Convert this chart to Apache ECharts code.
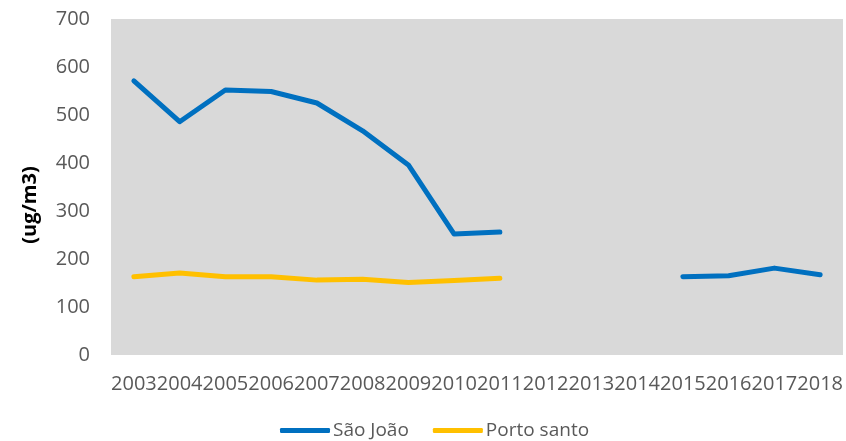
<!DOCTYPE html>
<html>
<head>
<meta charset="utf-8">
<script src="https://cdn.jsdelivr.net/npm/echarts@6/dist/echarts.min.js"></script>
<style>html,body{margin:0;padding:0;background:#fff}#c{width:846px;height:441px}</style>
</head>
<body>
<div id="c"></div>
<script>
var years = ['2003','2004','2005','2006','2007','2008','2009','2010','2011','2012','2013','2014','2015','2016','2017','2018'];
var saoJoao = [571, 486, 552, 549, 525, 467, 396, 252, 256, null, null, null, 163, 165, 181, 167];
var portoSanto = [163, 171, 163, 163, 156, 158, 151, 155, 160, null, null, null, null, null, null, null];
var yTicks = [0, 100, 200, 300, 400, 500, 600, 700];

var chart = echarts.init(document.getElementById('c'));
var font = '"Open Sans", "Liberation Sans", sans-serif';
chart.setOption({
  animation: false,
  backgroundColor: '#ffffff',
  textStyle: { fontFamily: font },
  grid: { left: 111, right: 3, top: 19, bottom: 86, show: true, backgroundColor: '#D9D9D9', borderWidth: 0 },
  graphic: [{
    type: 'text', x: 30, y: 205, rotation: Math.PI / 2,
    style: { text: '(ug/m3)', fontFamily: font, fontSize: 20, fontWeight: 'bold', fill: '#000', align: 'center', verticalAlign: 'middle' }
  }],
  legend: {
    left: 275, top: 416, itemWidth: 50, itemHeight: 5, itemGap: 24,
    icon: 'roundRect',
    textStyle: { fontSize: 19, color: '#595959', fontFamily: font, padding: [0, 0, 0, -2] },
    data: ['São João', 'Porto santo']
  },
  xAxis: {
    type: 'category', data: years, boundaryGap: true,
    axisLine: { show: false }, axisTick: { show: false },
    axisLabel: { interval: 0, hideOverlap: false, fontSize: 20, color: '#595959', margin: 19, fontFamily: font }
  },
  yAxis: {
    type: 'value', min: yTicks[0], max: yTicks[yTicks.length - 1], interval: 100,
    axisLine: { show: false }, axisTick: { show: false }, splitLine: { show: false },
    axisLabel: { fontSize: 20, color: '#595959', margin: 21, fontFamily: font }
  },
  series: [
    { name: 'São João', type: 'line', data: saoJoao, symbol: 'none', connectNulls: false,
      lineStyle: { width: 5, color: '#0070C0', cap: 'round', join: 'round' }, itemStyle: { color: '#0070C0' } },
    { name: 'Porto santo', type: 'line', data: portoSanto, symbol: 'none', connectNulls: false,
      lineStyle: { width: 5, color: '#FFC000', cap: 'round', join: 'round' }, itemStyle: { color: '#FFC000' } }
  ]
});
</script>
</body>
</html>
